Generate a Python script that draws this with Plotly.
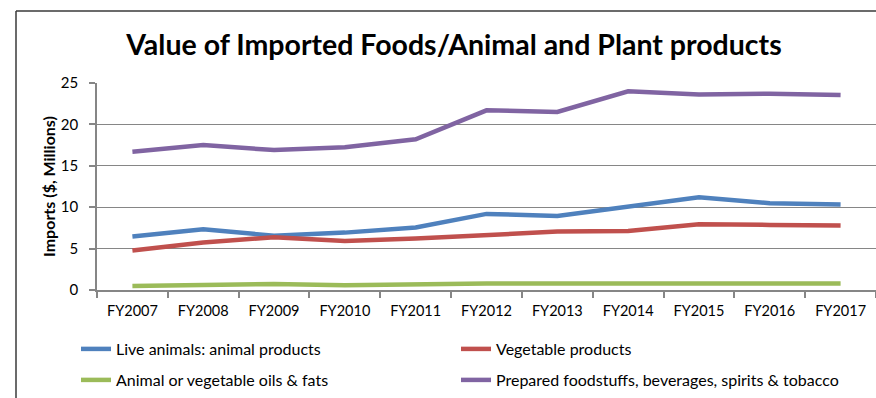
import plotly.graph_objects as go

years = ["FY2007", "FY2008", "FY2009", "FY2010", "FY2011", "FY2012",
         "FY2013", "FY2014", "FY2015", "FY2016", "FY2017"]
live_animals = [6.45, 7.34, 6.55, 6.93, 7.54, 9.19, 8.95, 10.08, 11.2, 10.48, 10.32]
vegetable = [4.76, 5.73, 6.37, 5.93, 6.21, 6.69, 7.06, 7.14, 7.94, 7.86, 7.78]
oils_fats = [0.48, 0.56, 0.72, 0.56, 0.72, 0.8, 0.8, 0.8, 0.8, 0.76, 0.8]
prepared = [16.7, 17.5, 16.9, 17.25, 18.2, 21.7, 21.5, 24.0, 23.6, 23.7, 23.55]

names = ["Live animals: animal products", "Vegetable products",
         "Animal or vegetable oils & fats",
         "Prepared foodstuffs, beverages, spirits & tobacco"]
colors = ["#4F81BD", "#C0504D", "#9BBB59", "#8064A2"]
series = [live_animals, vegetable, oils_fats, prepared]
legends = ["legend", "legend2", "legend3", "legend4"]

FONT = "Lato, 'Open Sans', sans-serif"

fig = go.Figure()
for name, vals, col, lg in zip(names, series, colors, legends):
    fig.add_trace(go.Scatter(x=years, y=vals, name=name, mode="lines",
                             line=dict(color=col, width=4.5),
                             legend=lg))

W, H = 876, 398
L, R, T, B = 97, 0, 83, 108
pw = W - L - R
ph = H - T - B

def px2x(px):
    return (px - L) / pw

def py2y(py):
    return (H - B - py) / ph

leg_common = dict(orientation="h",
                  font=dict(family=FONT, size=16, color="#000000"),
                  xanchor="left", yanchor="middle", bgcolor="rgba(0,0,0,0)",
                  itemclick=False)

fig.update_layout(
    width=W, height=H,
    margin=dict(l=L, r=R, t=T, b=B),
    paper_bgcolor="white", plot_bgcolor="white",
    title=dict(text="<b>Value of Imported Foods/Animal and Plant products</b>",
               font=dict(family=FONT, size=28.5, color="#000000"),
               x=px2x(454), xref="paper", xanchor="center",
               y=1 - 45 / H, yref="container", yanchor="middle"),
    legend=dict(x=px2x(76), y=py2y(349), **leg_common),
    legend2=dict(x=px2x(456), y=py2y(349), **leg_common),
    legend3=dict(x=px2x(76), y=py2y(380), **leg_common),
    legend4=dict(x=px2x(456), y=py2y(380), **leg_common),
    xaxis=dict(type="category", showgrid=False, showline=True,
               linecolor="#868686", linewidth=1.5,
               ticks="outside", ticklen=6, tickcolor="#868686", tickwidth=1.5,
               tickson="boundaries", ticklabelstandoff=7,
               tickfont=dict(family=FONT, size=14.5, color="#000000"),
               range=[-0.5, 10.5]),
    yaxis=dict(range=[0, 25], dtick=5, showgrid=True, gridcolor="#868686",
               gridwidth=1.2, showline=True, linecolor="#868686", linewidth=1.5,
               ticks="outside", ticklen=6, tickcolor="#868686", tickwidth=1.5,
               ticklabelstandoff=8, zeroline=False,
               tickfont=dict(family=FONT, size=15, color="#000000"),
               title=dict(text="<b>Imports ($, Millions)</b>", standoff=1,
                          font=dict(family=FONT, size=16, color="#000000"))),
    showlegend=True,
)

# chart frame (left and top edges visible)
fig.add_shape(type="line", xref="paper", yref="paper",
              x0=px2x(16), x1=px2x(16), y0=py2y(11), y1=py2y(400),
              line=dict(color="#3a3a3a", width=1.5))
fig.add_shape(type="line", xref="paper", yref="paper",
              x0=px2x(16), x1=px2x(878), y0=py2y(11), y1=py2y(11),
              line=dict(color="#3a3a3a", width=1.5))

fig.write_html("out.html", config={"displayModeBar": False},
               post_script="document.body.style.margin='0';"
                           "document.body.style.overflow='hidden';")
